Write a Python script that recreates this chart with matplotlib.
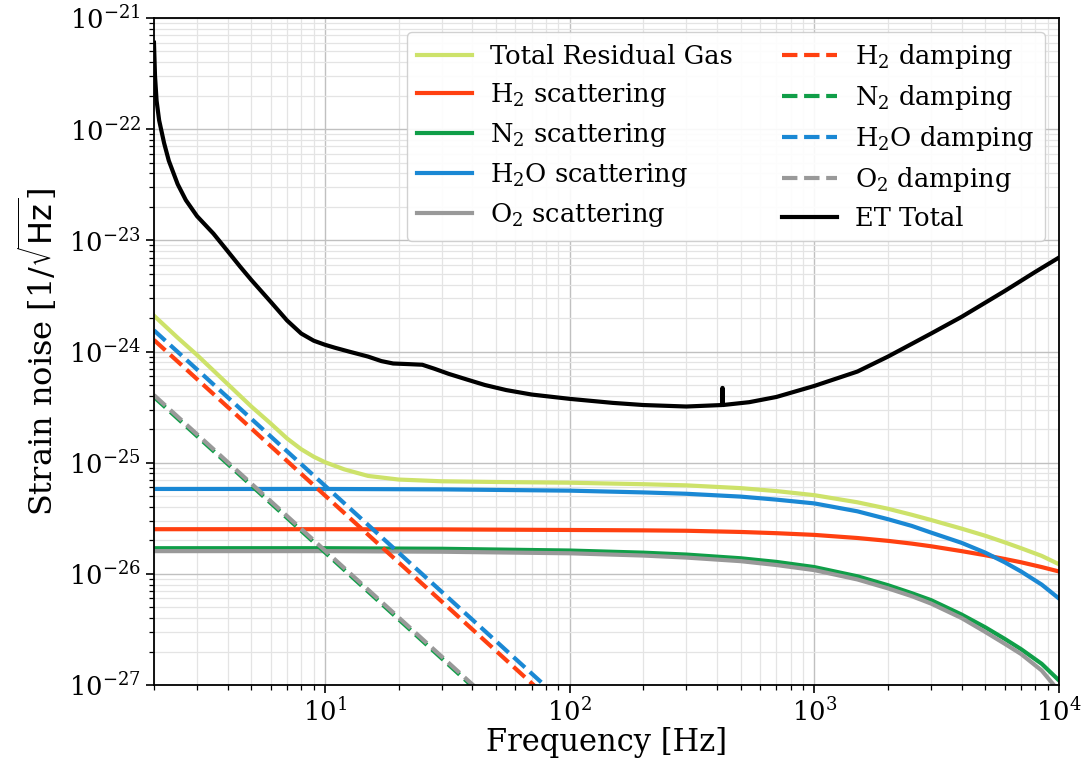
import matplotlib
matplotlib.use('Agg')
import matplotlib.pyplot as plt
from matplotlib.ticker import FixedLocator, LogLocator, LogFormatterSciNotation, NullFormatter

plt.rcParams['font.family'] = ['DejaVu Serif']
plt.rcParams['mathtext.fontset'] = 'dejavuserif'

# ---------------- data ----------------
f_scat = [2, 10, 30, 100, 200, 300, 500, 700, 1000, 1500, 2000, 2500, 3000,
          4000, 5000, 6000, 7000, 8500, 10000]
h2o_scat = [5.8e-26, 5.8e-26, 5.75e-26, 5.6e-26, 5.4e-26, 5.25e-26, 4.95e-26,
            4.65e-26, 4.3e-26, 3.65e-26, 3.1e-26, 2.7e-26, 2.35e-26, 1.9e-26,
            1.55e-26, 1.27e-26, 1.05e-26, 8.0e-27, 6.0e-27]
h2_scat = [2.52e-26, 2.52e-26, 2.51e-26, 2.48e-26, 2.46e-26, 2.44e-26, 2.38e-26,
           2.32e-26, 2.24e-26, 2.10e-26, 1.98e-26, 1.87e-26, 1.77e-26, 1.60e-26,
           1.47e-26, 1.36e-26, 1.27e-26, 1.15e-26, 1.05e-26]
n2_scat = [1.70e-26, 1.70e-26, 1.68e-26, 1.62e-26, 1.55e-26, 1.49e-26, 1.38e-26,
           1.28e-26, 1.15e-26, 9.5e-27, 7.9e-27, 6.7e-27, 5.8e-27, 4.3e-27,
           3.3e-27, 2.6e-27, 2.1e-27, 1.55e-27, 1.1e-27]
o2_scat = [1.60e-26, 1.60e-26, 1.58e-26, 1.53e-26, 1.46e-26, 1.40e-26, 1.30e-26,
           1.20e-26, 1.08e-26, 8.9e-27, 7.4e-27, 6.3e-27, 5.4e-27, 4.0e-27,
           3.0e-27, 2.35e-27, 1.9e-27, 1.35e-27, 8.8e-28]

f_total = [2, 2.5, 3, 4, 5, 6, 7, 8, 9, 10, 12, 15, 20, 30, 50, 100, 200, 300,
           500, 700, 1000, 1500, 2000, 2500, 3000, 4000, 5000, 6000, 7000,
           8500, 10000]
total_gas = [2.1e-24, 1.33e-24, 9.3e-25, 5.1e-25, 3.2e-25, 2.25e-25, 1.65e-25,
             1.32e-25, 1.13e-25, 1.01e-25, 8.7e-26, 7.6e-26, 7.05e-26, 6.8e-26,
             6.7e-26, 6.6e-26, 6.4e-26, 6.25e-26, 5.9e-26, 5.55e-26, 5.1e-26,
             4.4e-26, 3.85e-26, 3.4e-26, 3.05e-26, 2.55e-26, 2.2e-26, 1.92e-26,
             1.7e-26, 1.45e-26, 1.22e-26]

f_damp = [2, 10, 100]
h2_damp = [1.27e-24, 5.07e-26, 5.07e-28]
n2_damp = [3.9e-25, 1.56e-26, 1.56e-28]
h2o_damp = [1.55e-24, 6.2e-26, 6.2e-28]
o2_damp = [4.05e-25, 1.62e-26, 1.62e-28]

f_et = [2.0, 2.02, 2.05, 2.1, 2.2, 2.3, 2.5, 2.7, 3.0, 3.5, 4.0, 4.5, 5.0, 6.0,
        7.0, 8.0, 9.0, 10.0, 11.0, 12.5, 15.0, 17.0, 19.0, 22.0, 25.0, 28.0,
        32.0, 38.0, 45.0, 55.0, 70.0, 100.0, 150.0, 200.0, 300.0, 420.0,
        421.0, 422.0, 423.0, 542.0, 700.0, 1000.0, 1500.0, 2000.0, 3000.0,
        4000.0, 6000.0, 8000.0, 10000.0]
et_total = [6.0e-22, 3.0e-22, 1.8e-22, 1.2e-22, 7.5e-23, 5.2e-23, 3.2e-23,
            2.3e-23, 1.65e-23, 1.15e-23, 8.0e-24, 5.8e-24, 4.4e-24, 2.8e-24,
            1.9e-24, 1.45e-24, 1.25e-24, 1.15e-24, 1.08e-24, 1.0e-24, 9.0e-25,
            8.2e-25, 7.8e-25, 7.7e-25, 7.6e-25, 7.0e-25, 6.3e-25, 5.6e-25,
            5.0e-25, 4.5e-25, 4.1e-25, 3.75e-25, 3.45e-25, 3.3e-25, 3.2e-25,
            3.3e-25, 4.7e-25, 4.7e-25, 3.3e-25, 3.5e-25, 3.9e-25, 4.9e-25,
            6.6e-25, 9.0e-25, 1.45e-24, 2.05e-24, 3.5e-24, 5.2e-24, 7.0e-24]

x_major = [10, 100, 1000, 10000]
y_major = [1e-27, 1e-26, 1e-25, 1e-24, 1e-23, 1e-22, 1e-21]

labels = ['Total Residual Gas', r'H$_2$ scattering', r'N$_2$ scattering',
          r'H$_2$O scattering', r'O$_2$ scattering', r'H$_2$ damping',
          r'N$_2$ damping', r'H$_2$O damping', r'O$_2$ damping', 'ET Total']

c_total = '#cde26a'
c_h2 = '#ff4010'
c_n2 = '#109e48'
c_h2o = '#1a88d4'
c_o2 = '#999999'

# ---------------- figure ----------------
fig = plt.figure(figsize=(10.82, 7.61), dpi=100)
ax = fig.add_axes([0.1423, 0.0999, 0.8364, 0.8764])

lw = 3
ax.loglog(f_total, total_gas, color=c_total, lw=lw, label=labels[0])
ax.loglog(f_scat, h2_scat, color=c_h2, lw=lw, label=labels[1])
ax.loglog(f_scat, n2_scat, color=c_n2, lw=lw, label=labels[2])
ax.loglog(f_scat, h2o_scat, color=c_h2o, lw=lw, label=labels[3])
ax.loglog(f_scat, o2_scat, color=c_o2, lw=lw, label=labels[4])
ax.loglog(f_damp, h2_damp, color=c_h2, lw=lw, ls='--', label=labels[5])
ax.loglog(f_damp, n2_damp, color=c_n2, lw=lw, ls='--', label=labels[6])
ax.loglog(f_damp, h2o_damp, color=c_h2o, lw=lw, ls='--', label=labels[7])
ax.loglog(f_damp, o2_damp, color=c_o2, lw=lw, ls='--', label=labels[8])
ax.loglog(f_et, et_total, color='black', lw=lw, label=labels[9],
          solid_joinstyle='round')

ax.set_xlim(2, 1e4)
ax.set_ylim(1e-27, 1e-21)

ax.xaxis.set_major_locator(FixedLocator(x_major))
ax.yaxis.set_major_locator(FixedLocator(y_major))
ax.xaxis.set_major_formatter(LogFormatterSciNotation())
ax.yaxis.set_major_formatter(LogFormatterSciNotation())
ax.xaxis.set_minor_locator(LogLocator(base=10, subs=range(2, 10), numticks=20))
ax.yaxis.set_minor_locator(LogLocator(base=10, subs=range(2, 10), numticks=20))
ax.xaxis.set_minor_formatter(NullFormatter())
ax.yaxis.set_minor_formatter(NullFormatter())

ax.grid(True, which='major', color='#c0c0c0', lw=1)
ax.grid(True, which='minor', color='#e4e4e4', lw=0.9)
ax.set_axisbelow(True)

ax.tick_params(axis='both', which='major', labelsize=18.5, length=6, width=1.2)
ax.tick_params(axis='both', which='minor', length=3.5, width=0.9)

ax.set_xlabel('Frequency [Hz]', fontsize=22, labelpad=0)
ax.set_ylabel(r'Strain noise [1/$\sqrt{\mathsf{Hz}}$]', fontsize=23, labelpad=6)

for s in ax.spines.values():
    s.set_linewidth(1.3)

leg = ax.legend(ncol=2, loc='upper right', fontsize=18.5, handlelength=2.15,
                handletextpad=0.7, columnspacing=1.9, labelspacing=0.46,
                borderaxespad=0.55, framealpha=0.9)

fig.savefig('out.png', dpi=100)
